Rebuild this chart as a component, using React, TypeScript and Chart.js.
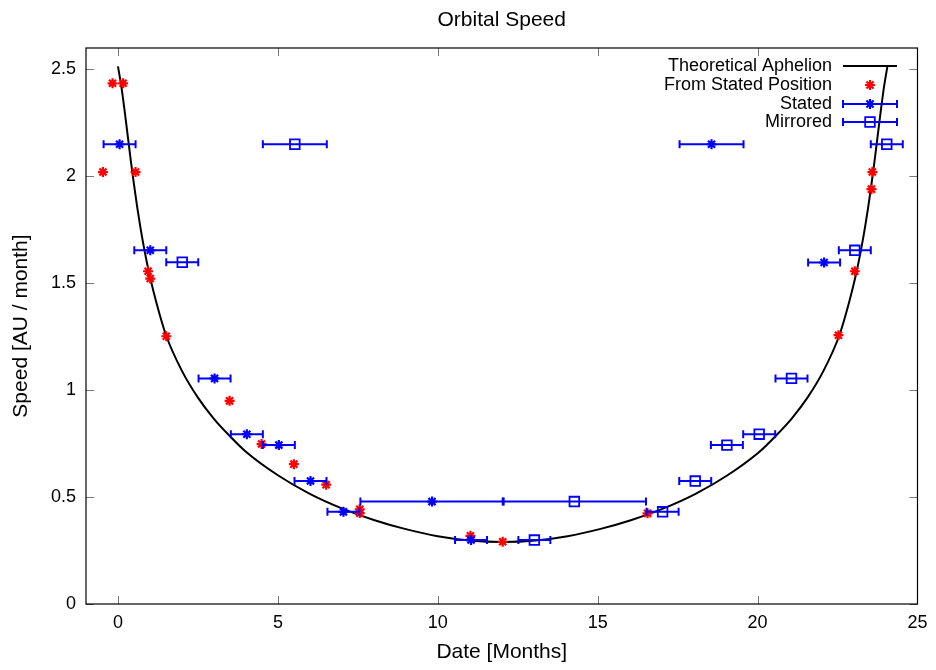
import React, { useEffect, useRef } from 'react';
import { Chart, registerables } from 'chart.js';
import { drawPoint } from 'chart.js/helpers';

Chart.register(...registerables);

// ---- data ----
const curveX = [0, 0.1, 0.2, 0.3, 0.4, 0.5, 0.6, 0.7, 0.8, 0.9, 1.0, 1.2, 1.5, 2.0, 2.5, 3.0, 3.5, 4.0, 5.0, 6.0, 7.0, 8.0, 9.0, 10.0, 11.0, 12.03, 13.06, 14.06, 15.06, 16.06, 17.06, 18.06, 19.06, 20.06, 20.56, 21.06, 21.56, 22.06, 22.56, 22.86, 23.06, 23.16, 23.26, 23.36, 23.46, 23.56, 23.66, 23.76, 23.86, 23.96, 24.06];
const curveY = [2.514, 2.425, 2.315, 2.195, 2.075, 1.962, 1.857, 1.762, 1.677, 1.6, 1.53, 1.41, 1.258, 1.09, 0.965, 0.866, 0.785, 0.712, 0.602, 0.515, 0.447, 0.393, 0.35, 0.317, 0.297, 0.29, 0.297, 0.317, 0.35, 0.393, 0.447, 0.515, 0.602, 0.712, 0.785, 0.866, 0.965, 1.09, 1.258, 1.41, 1.53, 1.6, 1.677, 1.762, 1.857, 1.962, 2.075, 2.195, 2.315, 2.425, 2.514];

const fromStatedX = [-0.47, -0.17, 0.16, 0.55, 0.94, 1.01, 1.51, 3.49, 4.49, 5.5, 6.51, 7.56, 7.56, 11.02, 12.03, 16.56, 22.53, 23.04, 23.56, 23.59];
const fromStatedY = [2.02, 2.435, 2.435, 2.02, 1.556, 1.522, 1.252, 0.95, 0.748, 0.654, 0.558, 0.443, 0.425, 0.319, 0.291, 0.424, 1.257, 1.556, 1.94, 2.02];

const statedX = [0.05, 1.01, 3.02, 4.03, 5.03, 6.02, 7.05, 9.82, 11.04, 18.56, 22.08];
const statedY = [2.15, 1.654, 1.055, 0.794, 0.743, 0.575, 0.431, 0.479, 0.299, 2.15, 1.597];
const statedErr = [0.5, 0.5, 0.5, 0.5, 0.5, 0.5, 0.5, 2.24, 0.5, 1.0, 0.5];

const mirroredX = [24.04, 23.04, 21.06, 20.05, 19.04, 18.05, 17.03, 14.27, 13.02, 5.53, 2.01];
const mirroredY = [2.15, 1.654, 1.055, 0.794, 0.743, 0.575, 0.431, 0.479, 0.299, 2.15, 1.598];
const mirroredErr = [0.5, 0.5, 0.5, 0.5, 0.5, 0.5, 0.5, 2.24, 0.5, 1.0, 0.5];

const xTicks = [0, 5, 10, 15, 20, 25];
const yTicks = [0, 0.5, 1, 1.5, 2, 2.5];
const seriesLabels = ['Theoretical Aphelion', 'From Stated Position', 'Stated', 'Mirrored'];
const chartTitle = 'Orbital Speed';
const xTitle = 'Date [Months]';
const yTitle = 'Speed [AU / month]';

const FONT = "'Liberation Sans', Arial, Helvetica, sans-serif";

const errorBarPlugin = {
  id: 'errorBars',
  beforeDatasetDraw(chart: any, args: any) {
    const ds = chart.data.datasets[args.index];
    if (!ds.errorBars) return;
    const { ctx } = chart;
    const xs = chart.scales.x;
    const ys = chart.scales.y;
    ctx.save();
    ctx.strokeStyle = ds.borderColor;
    ctx.lineWidth = 2;
    ds.data.forEach((p: any) => {
      const x1 = xs.getPixelForValue(p.xMin);
      const x2 = xs.getPixelForValue(p.xMax);
      const py = ys.getPixelForValue(p.y);
      ctx.beginPath();
      ctx.moveTo(x1, py);
      ctx.lineTo(x2, py);
      ctx.moveTo(x1, py - 4);
      ctx.lineTo(x1, py + 4);
      ctx.moveTo(x2, py - 4);
      ctx.lineTo(x2, py + 4);
      ctx.stroke();
    });
    ctx.restore();
  },
};

const framePlugin = {
  id: 'frame',
  afterDatasetsDraw(chart: any) {
    const { ctx, chartArea: a } = chart;
    const xs = chart.scales.x;
    const ys = chart.scales.y;
    ctx.save();
    ctx.strokeStyle = '#777';
    ctx.lineWidth = 1;
    const tl = 8;
    ctx.beginPath();
    xs.ticks.forEach((t: any) => {
      const px = Math.round(xs.getPixelForValue(t.value)) + 0.5;
      ctx.moveTo(px, a.bottom);
      ctx.lineTo(px, a.bottom - tl);
      ctx.moveTo(px, a.top);
      ctx.lineTo(px, a.top + tl);
    });
    ys.ticks.forEach((t: any) => {
      const py = Math.round(ys.getPixelForValue(t.value)) + 0.5;
      ctx.moveTo(a.left, py);
      ctx.lineTo(a.left + tl, py);
      ctx.moveTo(a.right, py);
      ctx.lineTo(a.right - tl, py);
    });
    ctx.stroke();
    ctx.strokeStyle = '#000';
    ctx.lineWidth = 1.2;
    ctx.strokeRect(a.left, a.top, a.right - a.left, a.bottom - a.top);
    ctx.restore();
  },
};

const legendPlugin = {
  id: 'gnuLegend',
  afterDraw(chart: any) {
    const { ctx } = chart;
    const textRight = 832;
    const s1 = 843;
    const s2 = 897;
    const sc = 870;
    const rows = [66, 85, 104, 122];
    ctx.save();
    ctx.font = `18px ${FONT}`;
    ctx.textAlign = 'right';
    ctx.textBaseline = 'middle';
    chart.data.datasets.forEach((ds: any, i: number) => {
      const y = rows[i];
      ctx.fillStyle = '#000';
      ctx.fillText(ds.label, textRight, y);
      if (ds.showLine) {
        ctx.strokeStyle = ds.borderColor;
        ctx.lineWidth = ds.borderWidth;
        ctx.beginPath();
        ctx.moveTo(s1, y);
        ctx.lineTo(s2, y);
        ctx.stroke();
      } else {
        if (ds.errorBars) {
          ctx.strokeStyle = ds.borderColor;
          ctx.lineWidth = 2;
          ctx.beginPath();
          ctx.moveTo(s1, y);
          ctx.lineTo(s2, y);
          ctx.moveTo(s1, y - 4);
          ctx.lineTo(s1, y + 4);
          ctx.moveTo(s2, y - 4);
          ctx.lineTo(s2, y + 4);
          ctx.stroke();
        }
        ctx.strokeStyle = ds.borderColor;
        ctx.fillStyle = ds.backgroundColor;
        ctx.lineWidth = ds.borderWidth;
        drawPoint(ctx, { pointStyle: ds.pointStyle, radius: ds.pointRadius, rotation: 0, borderWidth: ds.borderWidth } as any, sc, y);
      }
    });
    ctx.restore();
  },
};

export default function App() {
  const ref = useRef<HTMLCanvasElement | null>(null);
  useEffect(() => {
    document.body.style.margin = '0';
    const canvas = ref.current;
    if (!canvas) return;
    const chart = new Chart(canvas, {
      type: 'scatter',
      data: {
        datasets: [
          {
            label: seriesLabels[0],
            data: curveX.map((x, i) => ({ x, y: curveY[i] })),
            showLine: true,
            borderColor: '#000000',
            backgroundColor: '#000000',
            borderWidth: 2,
            pointRadius: 0,
            cubicInterpolationMode: 'monotone',
            order: 4,
          } as any,
          {
            label: seriesLabels[1],
            data: fromStatedX.map((x, i) => ({ x, y: fromStatedY[i] })),
            pointStyle: 'star',
            pointRadius: 5,
            borderColor: '#ff0000',
            backgroundColor: '#ff0000',
            borderWidth: 2.2,
            order: 3,
          } as any,
          {
            label: seriesLabels[2],
            data: statedX.map((x, i) => ({ x, y: statedY[i], xMin: x - statedErr[i], xMax: x + statedErr[i] })),
            errorBars: true,
            pointStyle: 'star',
            pointRadius: 5,
            borderColor: '#0000ff',
            backgroundColor: '#0000ff',
            borderWidth: 2.2,
            order: 2,
          } as any,
          {
            label: seriesLabels[3],
            data: mirroredX.map((x, i) => ({ x, y: mirroredY[i], xMin: x - mirroredErr[i], xMax: x + mirroredErr[i] })),
            errorBars: true,
            pointStyle: 'rect',
            pointRadius: 6.8,
            borderColor: '#0000ff',
            backgroundColor: 'rgba(0,0,0,0)',
            borderWidth: 1.8,
            order: 1,
          } as any,
        ],
      },
      options: {
        animation: false,
        responsive: false,
        events: [],
        layout: { padding: { left: 0, right: 17, top: 0, bottom: 0 } },
        plugins: {
          legend: { display: false },
          tooltip: { enabled: false },
          title: {
            display: true,
            text: chartTitle,
            fullSize: false,
            color: '#000',
            font: { family: FONT, size: 21, weight: 'normal' },
            padding: { top: 7.8, bottom: 15 },
          },
        },
        scales: {
          x: {
            type: 'linear',
            min: -1,
            max: 25,
            afterBuildTicks: (s: any) => {
              s.ticks = xTicks.map((v) => ({ value: v }));
            },
            afterFit: (s: any) => {
              s.height = 66;
            },
            grid: { display: false, drawTicks: false },
            border: { display: false },
            ticks: {
              padding: 8.5,
              color: '#000',
              font: { family: FONT, size: 18 },
              maxRotation: 0,
              autoSkip: false,
              callback: (v: any) => String(v),
            },
            title: {
              display: true,
              text: xTitle,
              color: '#000',
              font: { family: FONT, size: 21 },
              padding: { top: 5, bottom: 5 },
            },
          },
          y: {
            type: 'linear',
            min: 0,
            max: 2.6,
            afterBuildTicks: (s: any) => {
              s.ticks = yTicks.map((v) => ({ value: v }));
            },
            afterFit: (s: any) => {
              s.width = 86;
            },
            grid: { display: false, drawTicks: false },
            border: { display: false },
            ticks: {
              padding: 10,
              color: '#000',
              font: { family: FONT, size: 18 },
              autoSkip: false,
              callback: (v: any) => String(v),
            },
            title: {
              display: true,
              text: yTitle,
              color: '#000',
              font: { family: FONT, size: 21 },
              padding: { top: 9, bottom: 9 },
            },
          },
        },
      } as any,
      plugins: [errorBarPlugin, framePlugin, legendPlugin],
    });
    return () => chart.destroy();
  }, []);
  return (
    <div style={{ width: 936, height: 670 }}>
      <canvas ref={ref} width={936} height={670} style={{ display: 'block', width: 936, height: 670 }} />
    </div>
  );
}
